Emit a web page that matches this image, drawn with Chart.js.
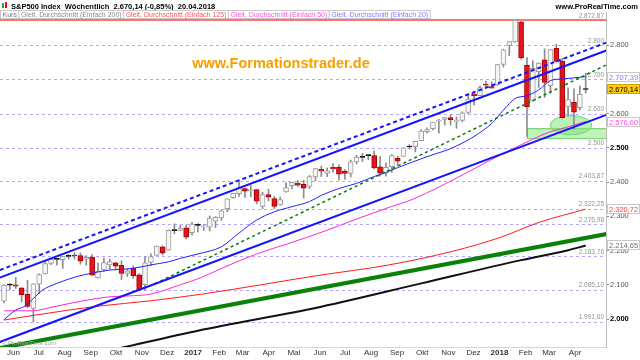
<!DOCTYPE html>
<html>
<head>
<meta charset="utf-8">
<script src="https://cdn.jsdelivr.net/npm/chart.js@4.4.1/dist/chart.umd.min.js"></script>
<style>
  html, body { margin: 0; padding: 0; background: #fff; }
  canvas { display: block; }
</style>
</head>
<body>
<canvas id="chart" width="640" height="360"></canvas>
<script>
// weekly candles, first bar = week ending 27.05.2016, last = 20.04.2018
const firstWeek = '2016-05-27';
const open  = [2052,2100,2100,2091,2073,2031,2102,2132,2162,2175,2173,2183,2186,2185,2175,2181,2120,2143,2158,2164,2157,2133,2149,2129,2100,2165,2186,2211,2201,2258,2259,2266,
               2252,2273.6,2269,2268,2286,2295,2322,2354,2366,2381,2374,2378,2329,2363,2352,2333,2371,2389,2397,2393,2387,2415,2437,2425,2443,2443,2431,2425,2459,2473,2477,2477,2444,2426,2445,2470,2475,2502.5,2503,2521,2547,2556,2578,2583,2588,2577,2580,2603,2657,2652,2686,2679,
               2684,2743,2799,2809,2867,2741,2637,2722,2757,2681,2790,2753,2619,2633,2617,2670.1];
const high  = [2100,2104,2121,2091,2113,2103,2132,2169,2176,2178,2183,2188,2194,2193,2185,2188,2163,2178,2175,2166,2170,2147,2155,2133,2182,2190,2213,2214,2260,2278,2273,2274,
               2282,2279,2276,2301,2299,2319,2351,2367,2401,2382,2390,2378,2370,2379,2358,2356,2398,2399,2404,2405,2419,2440,2446,2441,2454,2450,2436,2464,2478,2484,2480,2491,2475,2455,2480,2475,2500,2509,2519,2553,2558,2575,2583,2588,2597,2590,2605,2658,2665,2680,2695,2692,
               2743,2788,2810,2872.87,2870,2763,2754,2748,2789,2787,2802,2762,2675,2672,2680,2718];
const low   = [2047,2085,2089,2050,2033,1992,2074,2132,2159,2157,2148,2175,2175,2160,2157,2128,2119,2139,2145,2143,2115,2124,2119,2084,2084,2156,2186,2187,2201,2249,2258,2234,
               2245,2254,2259,2257,2267,2288,2313,2353,2358,2355,2357,2336,2322,2345,2322,2332,2370,2380,2387,2353,2380,2404,2416,2416,2429,2406,2408,2415,2453,2460,2465,2438,2417,2417,2428,2447,2475,2497,2488,2520,2543,2552,2543,2566,2566,2557,2576,2600,2625,2652,2677,2674,
               2682,2736,2769,2808,2759,2533,2635,2676,2647,2659,2749,2586,2593,2554,2610,2660];
const close = [2099,2099,2096,2071,2037,2103,2130,2162,2175,2174,2183,2184,2184,2169,2180,2128,2139,2165,2168,2154,2133,2141,2126,2085,2164,2182,2213,2192,2259,2258,2264,2239,
               2277,2274.6,2271,2295,2297,2316,2351,2367,2383,2373,2378,2344,2363,2356,2329,2349,2384,2399,2391,2382,2416,2439,2432,2433,2438,2423,2425,2459,2473,2472,2477,2441,2426,2443,2477,2461,2500,2502.2,2519,2549,2553,2575,2581,2588,2582,2579,2602,2642,2652,2676,2683,2674,
               2743,2786,2810,2872.87,2762,2620,2732,2747,2691,2787,2752,2588,2641,2604,2656,2670.14];

// moving averages: [week index, value]
const ma20  = [[0,1998],[2,2026],[3.6,2038],[5,2060],[6.6,2085],[9,2104],[12.4,2124],[15,2134],[18,2143],[20,2145],[22,2148],[25,2158],[28,2167],[30,2177],[33,2190],[37,2211],[40,2251],[43,2289],[46,2313],[49,2328],[52,2343],[54,2361],[57,2381],[60,2396],[63,2416],[65,2428],[67,2442],[72,2474],[77,2505],[83,2571],[85,2610],[87,2644],[89,2652],[91,2669],[93,2696],[95,2701],[99,2707.39]];
const ma50  = [[0,2024],[5,2024],[8,2034],[13.4,2053],[18,2065],[22,2068],[25,2073],[30,2100],[33.4,2120],[37.3,2150],[43,2190],[48.7,2222],[54.3,2255],[60,2292],[65.7,2327],[69.6,2350],[86.6,2497],[93,2547],[95.8,2560],[99,2576.6]];
const ma125 = [[0,1997],[5.5,2012],[11,2026],[16.3,2038],[24.8,2053],[33.4,2072],[53.8,2128],[65.2,2157],[76.4,2198],[84.4,2238],[91.2,2283],[99,2320.72]];
const ma200 = [[20,1916],[33,1966],[54,2036],[71,2104],[88,2172],[96,2201],[99,2214.65]];

// drawn trend lines: [week index, value] end points
const chanUpperDash = [[-0.7,2143],[102.5,2807]];
const chanUpper     = [[-0.7,2121],[102.5,2784]];
const chanLower     = [[-0.7,1933],[102.5,2596]];
const greenDash     = [[25.7,2103],[102.5,2742]];
const greenThick    = [[-0.7,1915],[102.5,2248]];

// horizontal levels
const levels = [2800, 2700, 2600, 2500, 2403.87, 2322.25, 2276.98, 2183.76, 2085.10, 1991.60];
const topLevel = 2872.87;
// support zone and circle
const zoneWeeks = [89, 102.5];
const zoneValues = [2528, 2557];
const circleCenter = [96.5, 2566];
const circleRadius = [3.5, 28];

const monthLabels = ['Jun','Jul','Aug','Sep','Okt','Nov','Dez','2017','Feb','Mar','Apr','Mai','Jun','Jul','Aug','Sep','Okt','Nov','Dez','2018','Feb','Mar','Apr'];
const monthStarts = ['2016-06-01','2016-07-01','2016-08-01','2016-09-01','2016-10-01','2016-11-01','2016-12-01','2017-01-01','2017-02-01','2017-03-01','2017-04-01','2017-05-01',
                     '2017-06-01','2017-07-01','2017-08-01','2017-09-01','2017-10-01','2017-11-01','2017-12-01','2018-01-01','2018-02-01','2018-03-01','2018-04-01'];
const yTicks = [2000, 2100, 2200, 2300, 2400, 2500, 2600, 2700, 2800];
const boldTicks = [2000, 2500];

const t0 = Date.parse(firstWeek);
const weekOf = d => (Date.parse(d) - t0) / (7 * 864e5);
const monthTicks = monthStarts.map(d => weekOf(d) + 0.9);

function de(v, d) {
  const s = v.toFixed(d).split('.');
  const a = s[0].replace(/\B(?=(\d{3})+(?!\d))/g, '.');
  return s[1] ? a + ',' + s[1] : a;
}
const levelText = v => Number.isInteger(v) ? de(v, 0) : de(v, 2);
const isBold = c => !!(c && c.tick && boldTicks.includes(c.tick.value));

const idx = close.map((c, i) => i);
const kind = idx.map(i => Math.abs(close[i] - open[i]) < 1.5 ? 'doji' : close[i] > open[i] ? 'up' : 'down');
const pts = arr => arr.map(p => ({ x: p[0], y: p[1] }));
const line = (arr, color, width, dash, mono) => ({
  type: 'line', data: pts(arr), borderColor: color, borderWidth: width, borderDash: dash || [],
  pointRadius: 0, fill: false, order: 0, cubicInterpolationMode: mono ? 'monotone' : 'default', tension: 0
});

const FONT = 'Liberation Sans';

const overlay = {
  id: 'overlay',
  beforeDatasetsDraw(chart) {
    const { ctx, chartArea: a, scales: { x, y } } = chart;
    ctx.save();
    ctx.beginPath();
    ctx.rect(a.left, a.top, a.right - a.left, a.bottom - a.top);
    ctx.clip();
    // dashed levels
    ctx.strokeStyle = '#b4a8ff';
    ctx.lineWidth = 1;
    ctx.setLineDash([3, 3]);
    levels.forEach(v => {
      const py = Math.round(y.getPixelForValue(v)) + 0.5;
      ctx.beginPath(); ctx.moveTo(a.left, py); ctx.lineTo(a.right, py); ctx.stroke();
    });
    ctx.setLineDash([]);
    // red top level
    const ty = y.getPixelForValue(topLevel);
    ctx.strokeStyle = '#ff7373';
    ctx.lineWidth = 2;
    ctx.beginPath(); ctx.moveTo(a.left, ty); ctx.lineTo(a.right, ty); ctx.stroke();
    // level labels
    ctx.font = '6.5px "' + FONT + '"';
    ctx.fillStyle = '#8d9988';
    ctx.textAlign = 'right';
    ctx.textBaseline = 'bottom';
    levels.concat([topLevel]).forEach(v => {
      ctx.fillText(levelText(v), a.right - 2, y.getPixelForValue(v) - 1);
    });
    // support zone
    const zx1 = x.getPixelForValue(zoneWeeks[0]), zx2 = x.getPixelForValue(zoneWeeks[1]);
    const zy1 = y.getPixelForValue(zoneValues[1]), zy2 = y.getPixelForValue(zoneValues[0]);
    ctx.fillStyle = 'rgba(150,235,140,0.6)';
    ctx.fillRect(zx1, zy1, zx2 - zx1, zy2 - zy1);
    ctx.strokeStyle = '#6cc865';
    ctx.lineWidth = 1;
    ctx.strokeRect(zx1 + 0.5, zy1 + 0.5, zx2 - zx1, zy2 - zy1);
    // circle
    const cx = x.getPixelForValue(circleCenter[0]), cy = y.getPixelForValue(circleCenter[1]);
    const rx = x.getPixelForValue(circleCenter[0] + circleRadius[0]) - cx;
    const ry = cy - y.getPixelForValue(circleCenter[1] + circleRadius[1]);
    ctx.beginPath();
    ctx.ellipse(cx, cy, rx, ry, 0, 0, Math.PI * 2);
    ctx.fillStyle = 'rgba(130,230,120,0.55)';
    ctx.fill();
    ctx.strokeStyle = '#79d070';
    ctx.stroke();
    ctx.restore();
  },
  afterDraw(chart) {
    const { ctx, chartArea: a, scales: { y } } = chart;
    ctx.save();
    // watermark
    ctx.font = 'bold 14.5px "' + FONT + '"';
    ctx.fillStyle = '#f7a000';
    ctx.textAlign = 'center';
    ctx.textBaseline = 'alphabetic';
    ctx.fillText('www.Formationstrader.de', 281, 68);
    // copyright
    ctx.font = '6px "' + FONT + '"';
    ctx.fillStyle = '#a0a0a0';
    ctx.textAlign = 'left';
    ctx.fillText('\u00a9 ProRealTime.com', 2, a.bottom - 2);
    // header row 1
    ctx.fillStyle = '#2eaa2e'; ctx.fillRect(2, 3, 2, 5);
    ctx.fillStyle = '#e01010'; ctx.fillRect(5, 2, 2, 6);
    ctx.font = 'bold 7.5px "' + FONT + '"';
    ctx.fillStyle = '#000';
    ctx.fillText('S&P500 Index  W\u00f6chentlich  ' + de(close[close.length - 1], 2) + ' (-0,85%)  20.04.2018', 11, 8.5);
    ctx.textAlign = 'right';
    ctx.fillText('www.ProRealTime.com', 638, 8.5);
    // header row 2
    const items = [['Kurs', '#7c7c7c'], ['Gleit. Durchschnitt (Einfach 200)', '#8a8a8a'], ['Gleit. Durchschnitt (Einfach 125)', '#ff5656'],
                   ['Gleit. Durchschnitt (Einfach 50)', '#ff52da'], ['Gleit. Durchschnitt (Einfach 20)', '#7b7bff']];
    ctx.font = '7px "' + FONT + '"';
    ctx.textAlign = 'left';
    let px = 0.5;
    items.forEach(([t, c]) => {
      const w = ctx.measureText(t).width + 4;
      ctx.fillStyle = 'rgba(255,255,255,0.9)';
      ctx.fillRect(px, 10.5, w, 8);
      ctx.strokeStyle = '#c9c9c9';
      ctx.lineWidth = 1;
      ctx.strokeRect(px, 10.5, w, 8);
      ctx.fillStyle = c;
      ctx.fillText(t, px + 2, 17);
      px += w;
    });
    // value boxes on the price axis
    const tags = [
      [ma20[ma20.length - 1][1], '#7b7bff', '#ffffff', '#c8c8c8'],
      [close[close.length - 1], '#000000', '#ffcc10', '#d4a000'],
      [ma50[ma50.length - 1][1], '#ff4fd6', '#ffffff', '#c8c8c8'],
      [ma125[ma125.length - 1][1], '#ff4040', '#ffffff', '#c8c8c8'],
      [ma200[ma200.length - 1][1], '#707070', '#ffffff', '#c8c8c8']
    ];
    ctx.font = '7.5px "' + FONT + '"';
    ctx.textBaseline = 'middle';
    tags.forEach(([v, tc, bg, bc]) => {
      const py = Math.round(y.getPixelForValue(v));
      ctx.fillStyle = bg;
      ctx.fillRect(a.right + 1, py - 5, 33, 10);
      ctx.strokeStyle = bc;
      ctx.strokeRect(a.right + 1.5, py - 4.5, 32, 9);
      ctx.fillStyle = tc;
      ctx.fillText(de(v, 2), a.right + 3, py + 0.5);
    });
    ctx.restore();
  }
};

new Chart(document.getElementById('chart').getContext('2d'), {
  type: 'line',
  data: {
    datasets: [
      line(chanUpperDash, '#1414ff', 2, [4, 3]),
      line(chanUpper, '#1414ff', 2),
      line(chanLower, '#1414ff', 2),
      line(greenDash, '#0a7a0a', 1.5, [3, 3]),
      line(greenThick, '#0a820a', 4),
      line(ma20, '#2323ff', 1, null, true),
      line(ma50, '#ff2ad0', 1, null, true),
      line(ma125, '#ff1a1a', 1, null, true),
      line(ma200, '#111111', 2, null, true),
      {
        type: 'bar', order: 10, grouped: false, barThickness: 5, minBarLength: 1,
        borderSkipped: false, borderWidth: 1,
        data: idx.map(i => ({ x: i, y: [open[i], close[i]] })),
        backgroundColor: kind.map(k => k === 'up' ? '#f6f6f6' : k === 'down' ? '#e3141c' : '#000000'),
        borderColor: kind.map(k => k === 'up' ? '#9c9c9c' : k === 'down' ? '#a60000' : '#000000')
      },
      {
        type: 'bar', order: 11, grouped: false, barThickness: 1,
        data: idx.map(i => ({ x: i, y: [low[i], high[i]] })),
        backgroundColor: '#8c8c8c'
      }
    ]
  },
  options: {
    responsive: false,
    animation: false,
    events: [],
    layout: { padding: { top: 12, left: 0, right: 0, bottom: 0 } },
    plugins: { legend: { display: false }, tooltip: { enabled: false } },
    scales: {
      x: {
        type: 'linear', min: -0.68, max: 102.45, offset: false,
        grid: { display: false, drawTicks: false, tickLength: 0 },
        border: { display: true, color: '#d6d6d6' },
        afterBuildTicks: s => { s.ticks = monthTicks.map(v => ({ value: v })); },
        afterFit: s => { s.height = 13; s.paddingLeft = 0; s.paddingRight = 0; },
        ticks: {
          autoSkip: false, maxRotation: 0, padding: 1, color: '#333',
          font: c => ({ family: FONT, size: 8, weight: (c && /^\d/.test(monthLabels[c.index] || '')) ? 'bold' : 'normal' }),
          callback: (v, i) => monthLabels[i]
        }
      },
      y: {
        position: 'right', min: 1918.3, max: 2896.4,
        afterBuildTicks: s => { s.ticks = yTicks.map(v => ({ value: v })); },
        afterFit: s => { s.width = 34; s.paddingTop = 0; s.paddingBottom = 0; },
        grid: { drawOnChartArea: false, drawTicks: true, tickLength: 3, color: '#8a8a8a' },
        border: { color: '#bdbdbd' },
        ticks: {
          padding: 1,
          color: c => isBold(c) ? '#000' : '#555',
          font: c => ({ family: FONT, size: 7.5, weight: isBold(c) ? 'bold' : 'normal' }),
          callback: v => de(v, 0)
        }
      }
    }
  },
  plugins: [overlay]
});
</script>
</body>
</html>
